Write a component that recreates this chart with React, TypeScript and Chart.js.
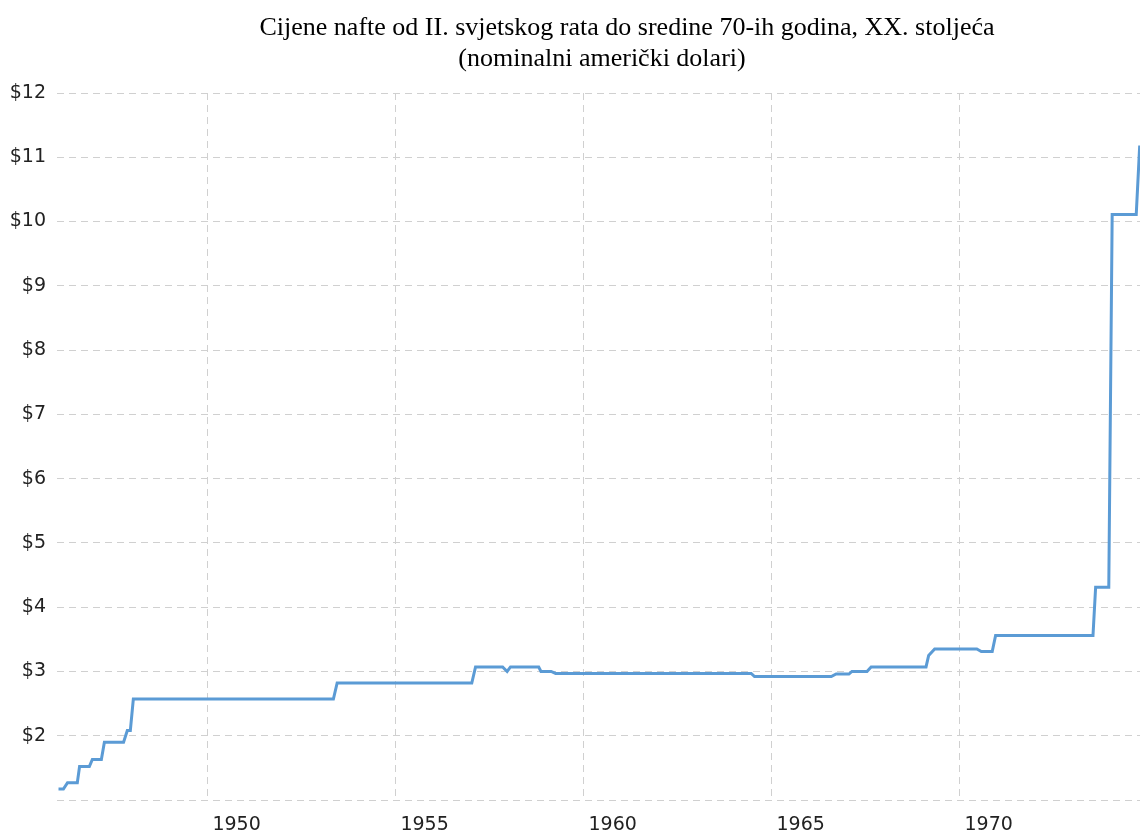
import { useEffect, useRef } from "react";
import { Chart, registerables } from "chart.js";

Chart.register(...registerables);

const titleLine1 = "Cijene nafte od II. svjetskog rata do sredine 70-ih godina, XX. stoljeća";
const titleLine2 = "(nominalni američki dolari)";

// decimal years of each point of the price line
const years = [
  1946.04, 1946.17, 1946.28, 1946.54, 1946.6, 1946.86, 1946.94, 1947.18, 1947.26, 1947.77,
  1947.87, 1947.95, 1948.03, 1953.35, 1953.45, 1957.03, 1957.13, 1957.85, 1957.97, 1958.06,
  1958.81, 1958.87, 1959.14, 1959.26, 1964.46, 1964.55, 1966.59, 1966.72, 1967.06, 1967.14,
  1967.54, 1967.65, 1969.11, 1969.18, 1969.34, 1970.46, 1970.58, 1970.87, 1970.96, 1973.55,
  1973.62, 1973.97, 1974.06, 1974.7, 1974.79, 1975.0,
];

// nominal price in US dollars
const prices = [
  1.17, 1.17, 1.27, 1.27, 1.52, 1.52, 1.63, 1.63, 1.9, 1.9,
  2.08, 2.08, 2.57, 2.57, 2.82, 2.82, 3.07, 3.07, 3.0, 3.07,
  3.07, 3.0, 3.0, 2.97, 2.97, 2.92, 2.92, 2.96, 2.96, 3.0,
  3.0, 3.07, 3.07, 3.25, 3.35, 3.35, 3.31, 3.31, 3.56, 3.56,
  4.31, 4.31, 10.11, 10.11, 11.16, 11.16,
];

const xTickValues = [1950, 1955, 1960, 1965, 1970];
const yTickValues = [1, 2, 3, 4, 5, 6, 7, 8, 9, 10, 11, 12];

export default function App() {
  const ref = useRef<HTMLCanvasElement>(null);

  useEffect(() => {
    if (!ref.current) return;

    const titlePlugin = {
      id: "twoLineTitle",
      afterDraw(chart: any) {
        const ctx = chart.ctx;
        ctx.save();
        ctx.font = '26px "Liberation Serif"';
        ctx.fillStyle = "#000";
        ctx.textAlign = "center";
        ctx.textBaseline = "alphabetic";
        ctx.fillText(titleLine1, 627, 35);
        ctx.fillText(titleLine2, 602, 66);
        ctx.restore();
      },
    };

    const gridColor = "#d0d0d0";
    const chart = new Chart(ref.current, {
      type: "line",
      data: {
        datasets: [
          {
            data: years.map((y, i) => ({ x: y, y: prices[i] })),
            borderColor: "#5b9bd5",
            borderWidth: 3,
            pointRadius: 0,
            tension: 0,
            fill: false,
          },
        ],
      },
      options: {
        animation: false,
        responsive: false,
        devicePixelRatio: 1,
        layout: { padding: { top: 93, left: 0, right: 0, bottom: 0 } },
        plugins: {
          legend: { display: false },
          title: { display: false },
          tooltip: { enabled: false },
        },
        scales: {
          x: {
            type: "linear",
            min: 1946,
            max: 1974.8,
            afterBuildTicks: (s: any) => {
              s.ticks = xTickValues.map((v) => ({ value: v }));
            },
            afterFit: (s: any) => {
              s.height = 34;
            },
            ticks: {
              align: "start",
              labelOffset: 5,
              padding: 14,
              color: "#222",
              maxRotation: 0,
              autoSkip: false,
              font: { family: '"DejaVu Sans"', size: 19 },
              callback: (v: any) => String(v),
            },
            grid: { color: gridColor, drawTicks: false, lineWidth: 1 },
            border: { display: false, dash: [7, 5] },
          },
          y: {
            type: "linear",
            min: 1,
            max: 12,
            afterBuildTicks: (s: any) => {
              s.ticks = yTickValues.map((v) => ({ value: v }));
            },
            afterFit: (s: any) => {
              s.width = 57;
            },
            ticks: {
              padding: 11,
              color: "#222",
              font: { family: '"DejaVu Sans"', size: 19 },
              callback: (v: any) => (v === 1 ? "" : "$" + v),
            },
            grid: { color: gridColor, drawTicks: false, lineWidth: 1 },
            border: { display: false, dash: [7, 5] },
          },
        },
      },
      plugins: [titlePlugin],
    } as any);

    return () => chart.destroy();
  }, []);

  return (
    <div
      style={{
        position: "absolute",
        left: 0,
        top: 0,
        width: 1140,
        height: 834,
        overflow: "hidden",
        background: "#fff",
      }}
    >
      <canvas ref={ref} width={1140} height={834} style={{ display: "block", width: 1140, height: 834 }} />
    </div>
  );
}
